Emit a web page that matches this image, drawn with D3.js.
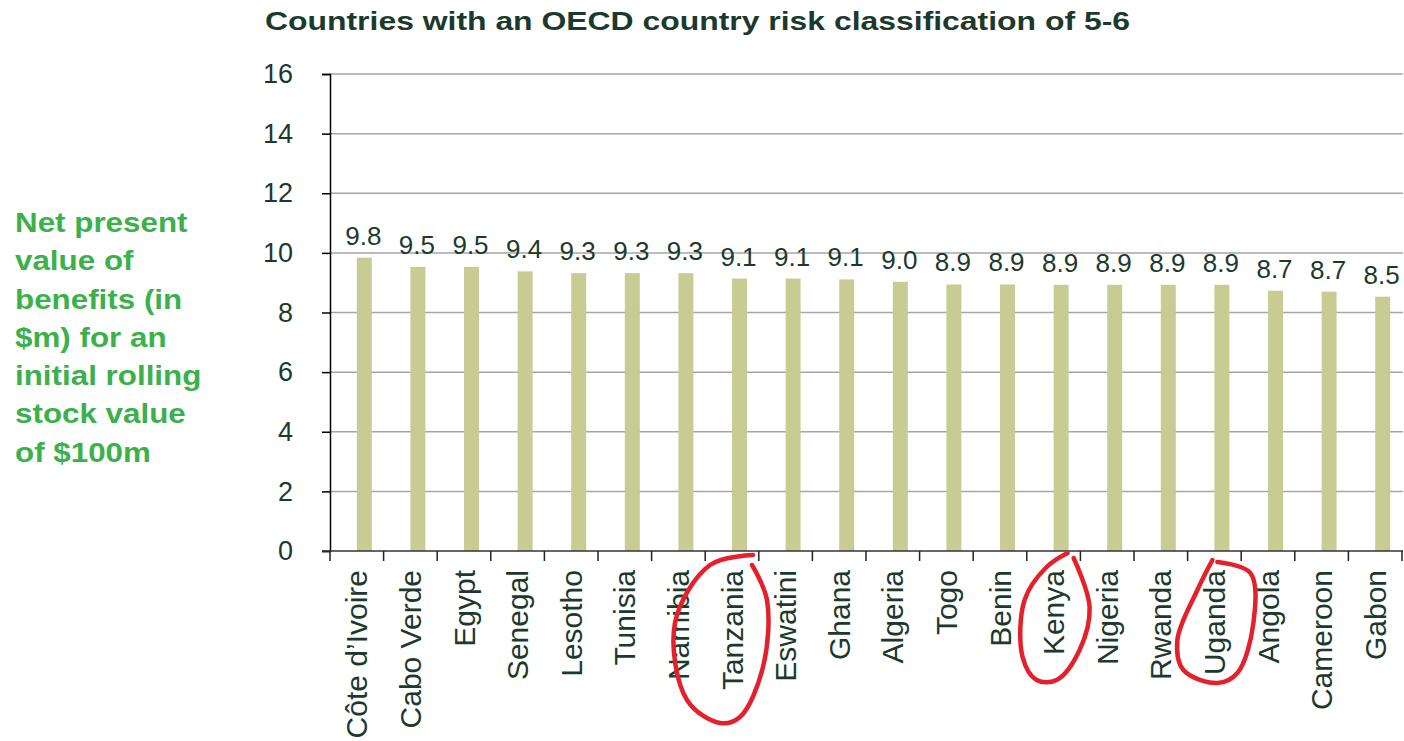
<!DOCTYPE html>
<html>
<head>
<meta charset="utf-8">
<script src="https://cdn.jsdelivr.net/npm/d3@7"></script>
<style>
  html, body { margin: 0; padding: 0; background: #ffffff; }
  svg { display: block; font-family: Arial, "Liberation Sans", sans-serif; }
</style>
</head>
<body>
<svg id="chart" width="1404" height="741"></svg>
<script>
const title = "Countries with an OECD country risk classification of 5-6";
const yTitleLines = ["Net present", "value of", "benefits (in", "$m) for an", "initial rolling", "stock value", "of $100m"];
const categories = ["Côte d’Ivoire", "Cabo Verde", "Egypt", "Senegal", "Lesotho", "Tunisia", "Namibia", "Tanzania", "Eswatini", "Ghana", "Algeria", "Togo", "Benin", "Kenya", "Nigeria", "Rwanda", "Uganda", "Angola", "Cameroon", "Gabon"];
const values = [9.84, 9.53, 9.53, 9.38, 9.32, 9.32, 9.32, 9.14, 9.14, 9.11, 9.03, 8.94, 8.94, 8.93, 8.93, 8.93, 8.93, 8.73, 8.70, 8.53];
const valueLabels = ["9.8", "9.5", "9.5", "9.4", "9.3", "9.3", "9.3", "9.1", "9.1", "9.1", "9.0", "8.9", "8.9", "8.9", "8.9", "8.9", "8.9", "8.7", "8.7", "8.5"];
const yTicks = [0, 2, 4, 6, 8, 10, 12, 14, 16];
const highlighted = ["Tanzania", "Kenya", "Uganda"];
// hand-drawn loop shapes (offsets from category centre, pixels below the axis)
const loopShapes = {
  "Tanzania": [[21,4],[-22,14],[-57,72],[-45,149],[-12,172],[8,166],[31,116],[35,49],[20,14]],
  "Kenya":    [[14,2],[-7,16],[-29,49],[-31,106],[-17,129],[3,129],[26,99],[36,56],[20,7]],
  "Uganda":   [[-2,9],[-17,39],[-37,89],[-31,119],[3,132],[23,122],[39,72],[36,22],[3,11]]
};

const svg = d3.select("#chart");
const margin = {left: 330, right: 2, top: 74, bottom: 190};
const W = 1404, H = 741;
const x = d3.scaleBand().domain(categories).range([margin.left, W - margin.right]).paddingInner(0).paddingOuter(0);
const y = d3.scaleLinear().domain([0, 16]).range([H - margin.bottom, margin.top]);
const barW = 15, barShift = 7.5;
const dark = "#1c3a2c";

// title
svg.append("text").attr("x", 265).attr("y", 30)
  .attr("font-size", 25).attr("font-weight", "bold").attr("fill", dark)
  .attr("textLength", 865).attr("lengthAdjust", "spacingAndGlyphs")
  .text(title);

// y axis title
const yt = svg.append("text").attr("font-size", 28).attr("font-weight", "bold").attr("fill", "#3cb04a")
  .attr("transform", "translate(15,0) scale(1.12,1)");
yTitleLines.forEach((l, i) => yt.append("tspan").attr("x", 0).attr("y", 232 + i * 38.3).text(l));

// gridlines
svg.append("g").selectAll("line").data(yTicks.filter(d => d > 0)).join("line")
  .attr("x1", margin.left).attr("x2", W - 1)
  .attr("y1", d => y(d)).attr("y2", d => y(d))
  .attr("stroke", "#a6a6a6").attr("stroke-width", 1.5);

// bars
svg.append("g").selectAll("rect").data(categories).join("rect")
  .attr("x", d => x(d) + x.bandwidth() / 2 + barShift - barW / 2)
  .attr("width", barW)
  .attr("y", (d, i) => y(values[i]))
  .attr("height", (d, i) => y(0) - y(values[i]))
  .attr("fill", "#c8cc93");

// value labels
svg.append("g").selectAll("text").data(categories).join("text")
  .attr("x", d => x(d) + x.bandwidth() / 2 + barShift - 1)
  .attr("y", (d, i) => y(values[i]) - 13)
  .attr("text-anchor", "middle").attr("font-size", 26).attr("fill", dark)
  .text((d, i) => valueLabels[i]);

// y axis
const yAxis = svg.append("g").attr("transform", `translate(${margin.left},0)`)
  .call(d3.axisLeft(y).tickValues(yTicks).tickSize(8).tickPadding(29));
yAxis.select(".domain").attr("stroke", "#000").attr("stroke-width", 1.5);
yAxis.selectAll(".tick line").attr("stroke", "#000").attr("stroke-width", 1.5);
yAxis.selectAll(".tick text").attr("font-size", 27).attr("fill", dark).attr("font-family", "Arial, 'Liberation Sans', sans-serif");

// x axis line and ticks at band boundaries
const xg = svg.append("g");
xg.append("line").attr("x1", margin.left - 8).attr("x2", W - 1)
  .attr("y1", y(0)).attr("y2", y(0)).attr("stroke", "#333").attr("stroke-width", 1.5);
const bounds = categories.map(c => x(c)).concat([x(categories[categories.length - 1]) + x.bandwidth()]);
xg.selectAll("line.tk").data(bounds).join("line").attr("class", "tk")
  .attr("x1", d => d).attr("x2", d => d)
  .attr("y1", y(0)).attr("y2", y(0) + 10)
  .attr("stroke", "#222").attr("stroke-width", 1.5);

// x labels
xg.selectAll("text").data(categories).join("text")
  .attr("transform", d => `translate(${x(d) + x.bandwidth() / 2},${y(0) + 19}) rotate(-90)`)
  .attr("text-anchor", "end").attr("dy", "0.35em")
  .attr("font-size", 30).attr("fill", dark)
  .text(d => d);

// hand-drawn highlight loops
const loop = d3.line().curve(d3.curveCatmullRom.alpha(0.5));
svg.append("g").selectAll("path").data(highlighted).join("path")
  .attr("d", c => {
    const cx = x(c) + x.bandwidth() / 2, cy = y(0);
    return loop(loopShapes[c].map(([dx, dy]) => [cx + dx, cy + dy]));
  })
  .attr("fill", "none").attr("stroke", "#e3202b").attr("stroke-width", 4.5)
  .attr("stroke-linecap", "round").attr("stroke-linejoin", "round");
</script>
</body>
</html>
